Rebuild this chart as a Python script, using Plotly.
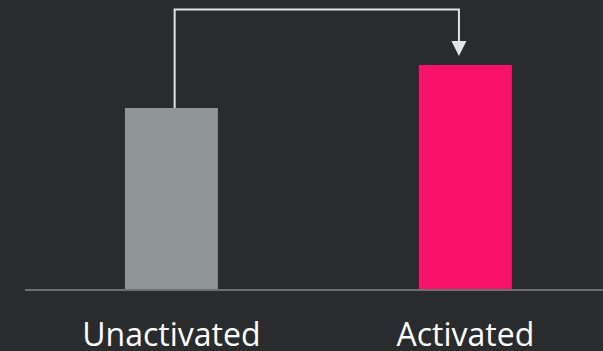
import plotly.graph_objects as go

# Bar chart: unactivated vs activated, with a connector arrow between them
categories = ["Unactivated", "Activated"]
values = [80.8, 100]
bar_colors = ["#909698", "#f8126c"]

bg = "#2a2b2d"
arrow_color = "#e4e4e4"
y_top = 124.8      # height of the connector's horizontal run
arrow_tip = 104.0  # where the arrowhead points to

x_pos = list(range(len(categories)))

fig = go.Figure()
fig.add_trace(go.Bar(
    x=x_pos,
    y=values,
    width=0.316,
    marker=dict(color=bar_colors, line=dict(width=0)),
    hoverinfo="skip",
))

# connector from top of the first bar to above the second one
x_start = x_pos[0] + 0.011
x_end = x_pos[1] - 0.022
fig.add_shape(
    type="path",
    path=f"M {x_start},{values[0]} L {x_start},{y_top} L {x_end},{y_top} L {x_end},{arrow_tip + 5.6}",
    line=dict(color=arrow_color, width=2),
    layer="above",
)
# arrowhead (pixel sized triangle anchored at the tip)
fig.add_shape(
    type="path",
    xsizemode="pixel", ysizemode="pixel",
    xanchor=x_end, yanchor=arrow_tip,
    path="M -7.5,15 L 7.5,15 L 0,0 Z",
    fillcolor=arrow_color,
    line=dict(width=0),
    layer="above",
)

fig.update_layout(
    width=603, height=351,
    margin=dict(l=25, r=0, t=0, b=62),
    paper_bgcolor=bg,
    plot_bgcolor=bg,
    showlegend=False,
    font=dict(family="Open Sans", color="#ffffff"),
    xaxis=dict(
        range=[-0.498, 1.468],
        tickvals=x_pos,
        ticktext=categories,
        tickfont=dict(size=32, color="#ffffff"),
        showgrid=False, zeroline=False,
        showline=True, linecolor="#6e6e6e", linewidth=2,
        ticks="", ticklabelstandoff=17,
        automargin=False,
        fixedrange=True,
    ),
    yaxis=dict(
        range=[0, 129],
        visible=False,
        showgrid=False, zeroline=False,
        fixedrange=True,
    ),
)

fig.write_html(
    "out.html",
    config={"displayModeBar": False},
    post_script=f"document.body.style.margin='0';document.body.style.background='{bg}';",
)
